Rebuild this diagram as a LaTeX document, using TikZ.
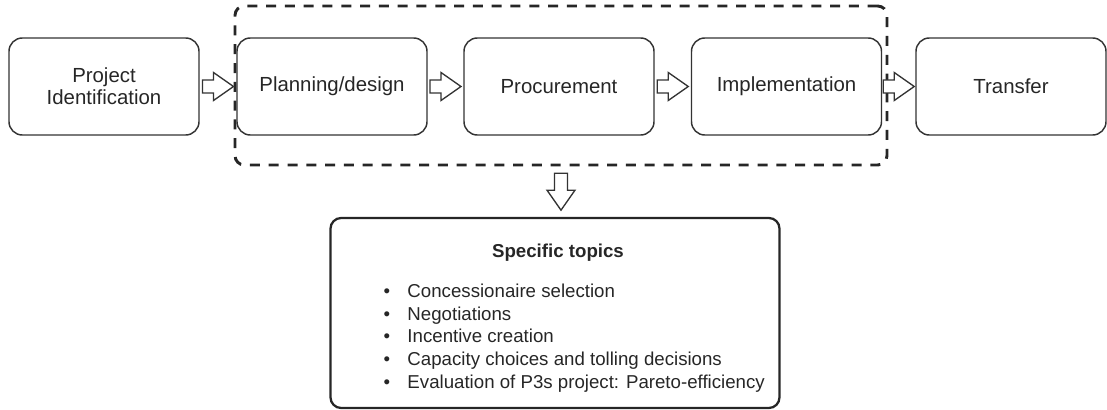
\documentclass[tikz,border=0pt]{standalone}
\usepackage{fontspec}
\setmainfont{Liberation Sans}
\usetikzlibrary{calc}

\tikzset{every picture/.style={line width=0.75pt}}
\tikzset{
  stage/.style={draw=black!80, line width=1.1pt, rounded corners=10pt, align=center,
    minimum width=142.5pt, minimum height=72.75pt, inner sep=0pt, text=black!85,
    font=\fontsize{15.3pt}{16.5pt}\selectfont},
  phasebox/.style={draw=black!85, line width=2.2pt, dash pattern=on 7.5pt off 6.6pt,
    rounded corners=7pt, minimum width=489pt, minimum height=119.25pt, inner sep=0pt},
  topicbox/.style={draw=black!85, line width=1.7pt, rounded corners=8pt,
    minimum width=336.75pt, minimum height=142.5pt, inner sep=0pt},
  pics/hollow arrow/.style={code={
    \draw[draw=black!80, line width=1pt, line join=miter, fill=white]
      (-#1/2,-6.5) -- (#1/2-20,-6.5) -- (#1/2-20,-14) -- (#1/2,0)
      -- (#1/2-20,14) -- (#1/2-20,6.5) -- (-#1/2,6.5) -- cycle ;
  }}
}

\begin{document}
\begin{tikzpicture}[x=0.75pt,y=0.75pt,yscale=-1,xscale=1]
\useasboundingbox (0,0) rectangle (1107,410);

%Dashed group round the middle stages
\node[phasebox] (phase) at (561,85.5) {};

%Rounded Rect: stages
\node[stage] (pid) at (104,86.5) {Project\\Identification};
\node[stage] (plan) at (332,86.5) {Planning/design};
\node[stage] (proc) at (559,86.5) {Procurement};
\node[stage] (impl) at (786.5,86.5) {Implementation};
\node[stage] (trans) at (1011,86.5) {Transfer};

%Block arrows between stages
\pic at ($(pid.east)!0.5!(plan.west)$) {hollow arrow=31};
\pic at ($(plan.east)!0.5!(proc.west)$) {hollow arrow=31};
\pic at ($(proc.east)!0.5!(impl.west)$) {hollow arrow=31};
\pic at ($(impl.east)!0.5!(trans.west)$) {hollow arrow=31};

%Rounded Rect: topics
\node[topicbox] (topics) at (555,313) {};
\pic[rotate=-90] at ($(phase.south)!0.5!(phase.south |- topics.north)$) {hollow arrow=37};

% Text Node
\node[anchor=base, inner sep=0pt, text=black!85, font=\fontsize{14pt}{16pt}\selectfont\bfseries] (title) at (558,257) {Specific topics};
% Text Node
\node[anchor=base west, inner sep=0pt, align=left, text=black!85, font=\fontsize{14pt}{16.9pt}\selectfont] (items) at (383,388) {%
  \makebox[18pt][l]{\textbullet}Concessionaire selection\\
  \makebox[18pt][l]{\textbullet}Negotiations\\
  \makebox[18pt][l]{\textbullet}Incentive creation\\
  \makebox[18pt][l]{\textbullet}Capacity choices and tolling decisions\\
  \makebox[18pt][l]{\textbullet}Evaluation of P3s project: Pareto-efficiency};

\end{tikzpicture}
\end{document}
